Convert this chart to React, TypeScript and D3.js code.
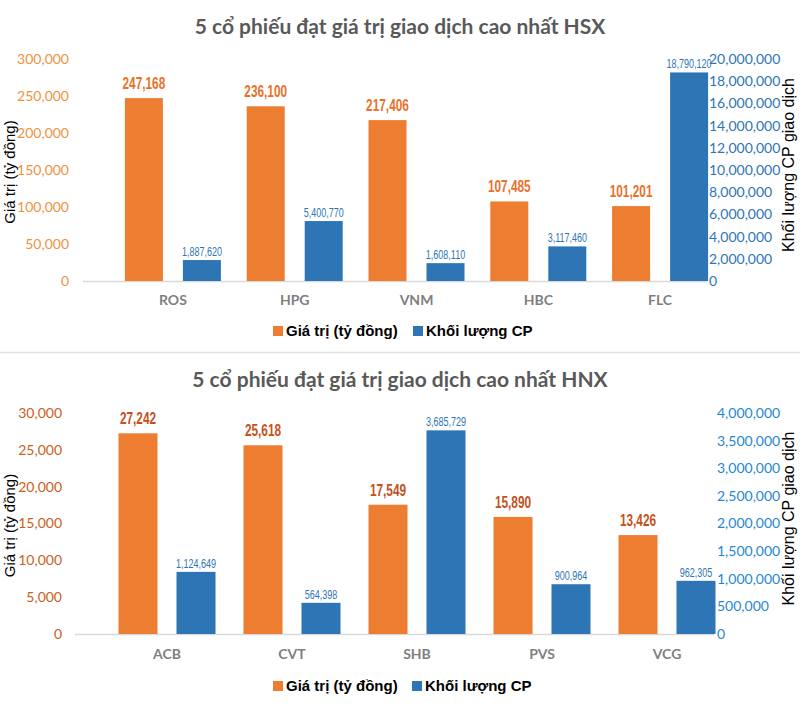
import React from "react";
import * as d3 from "d3";

const hsxCategories = ["ROS", "HPG", "VNM", "HBC", "FLC"];
const hsxValue = [247168, 236100, 217406, 107485, 101201];
const hsxVolume = [1887620, 5400770, 1608110, 3117460, 18790120];
const hsxValueTicks = [0, 50000, 100000, 150000, 200000, 250000, 300000];
const hsxVolumeTicks = [0, 2000000, 4000000, 6000000, 8000000, 10000000, 12000000, 14000000, 16000000, 18000000, 20000000];

const hnxCategories = ["ACB", "CVT", "SHB", "PVS", "VCG"];
const hnxValue = [27242, 25618, 17549, 15890, 13426];
const hnxVolume = [1124649, 564398, 3685729, 900964, 962305];
const hnxValueTicks = [0, 5000, 10000, 15000, 20000, 25000, 30000];
const hnxVolumeTicks = [0, 500000, 1000000, 1500000, 2000000, 2500000, 3000000, 3500000, 4000000];

const legendLabels = ["Giá trị (tỷ đồng)", "Khối lượng CP"];
const leftAxisTitle = "Giá trị (tỷ đồng)";
const rightAxisTitle = "Khối lượng CP giao dịch";

const ORANGE = "#ED7D31";
const BLUE = "#2E75B6";
const fmt = d3.format(",");

type PanelProps = {
  title: string;
  categories: string[];
  values: number[];
  volumes: number[];
  valueTicks: number[];
  volumeTicks: number[];
  titleY: number;
  top: number;
  bottom: number;
  axisX0: number;
  axisX1: number;
  bandRange: [number, number];
  barW: number;
  gap: number;
  leftTickX: number;
  rightTickX: number;
  catY: number;
  legendY: number;
  legendX: [number, number];
  leftTickColor: string;
  rightTickColor: string;
  valueLabelColor: string;
};

function Panel(p: PanelProps) {
  const x = d3.scaleBand<string>().domain(p.categories).range(p.bandRange).padding(0);
  const yL = d3.scaleLinear().domain([0, d3.max(p.valueTicks)!]).range([p.bottom, p.top]);
  const yR = d3.scaleLinear().domain([0, d3.max(p.volumeTicks)!]).range([p.bottom, p.top]);
  const mid = (p.top + p.bottom) / 2;
  const groupW = p.barW * 2 + p.gap;
  return (
    <g>
      <text x={400} y={p.titleY} textAnchor="middle" fontFamily="Lato, 'Open Sans', sans-serif" fontWeight={700} fontSize={21} fill="#595959">
        {p.title}
      </text>
      {p.valueTicks.map((t) => (
        <text key={"l" + t} x={p.leftTickX} y={yL(t)} dy="0.35em" textAnchor="end" fontFamily="Lato, sans-serif" fontSize={14} fill={p.leftTickColor}>
          {fmt(t)}
        </text>
      ))}
      {p.volumeTicks.map((t) => (
        <text key={"r" + t} x={p.rightTickX} y={yR(t)} dy="0.35em" textAnchor="start" fontFamily="Lato, sans-serif" fontSize={14} fill={p.rightTickColor}>
          {fmt(t)}
        </text>
      ))}
      <text transform={`translate(14.5,${mid + 2}) rotate(-90)`} textAnchor="middle" fontFamily="'Liberation Sans', Arial, sans-serif" fontSize={15} fill="#000">
        {leftAxisTitle}
      </text>
      <text transform={`translate(794,${mid - 5}) rotate(-90)`} textAnchor="middle" fontFamily="'Liberation Sans', Arial, sans-serif" fontSize={16} fill="#000">
        {rightAxisTitle}
      </text>
      <line x1={p.axisX0} x2={p.axisX1} y1={p.bottom + 0.5} y2={p.bottom + 0.5} stroke="#d9d9d9" strokeWidth={1.5} />
      {p.categories.map((c, i) => {
        const cx = x(c)! + x.bandwidth() / 2;
        const ox = cx - groupW / 2;
        const bx = ox + p.barW + p.gap;
        const oy = yL(p.values[i]);
        const by = yR(p.volumes[i]);
        return (
          <g key={c}>
            <rect x={ox} y={oy} width={p.barW} height={p.bottom - oy} fill={ORANGE} />
            <rect x={bx} y={by} width={p.barW} height={p.bottom - by} fill={BLUE} />
            <text transform={`translate(${ox + p.barW / 2},${oy - 9}) scale(0.74,1)`} textAnchor="middle" fontFamily="'Liberation Sans', Arial, sans-serif" fontWeight={700} fontSize={16} fill={p.valueLabelColor}>
              {fmt(p.values[i])}
            </text>
            <text transform={`translate(${bx + p.barW / 2},${by - 4}) scale(0.72,1)`} textAnchor="middle" fontFamily="'Liberation Sans', Arial, sans-serif" fontSize={12.5} fill={BLUE}>
              {fmt(p.volumes[i])}
            </text>
            <text x={cx} y={p.catY} dy="0.35em" textAnchor="middle" fontFamily="Lato, sans-serif" fontWeight={700} fontSize={14} fill="#7f7f7f">
              {c}
            </text>
          </g>
        );
      })}
      {legendLabels.map((l, i) => (
        <g key={l}>
          <rect x={p.legendX[i]} y={p.legendY - 5} width={10} height={10} fill={i === 0 ? ORANGE : BLUE} />
          <text x={p.legendX[i] + 13} y={p.legendY} dy="0.35em" fontFamily="'Liberation Sans', Arial, sans-serif" fontWeight={700} fontSize={15} fill="#000">
            {l}
          </text>
        </g>
      ))}
    </g>
  );
}

export default function App() {
  return (
    <svg width={800} height={707} style={{ position: "absolute", left: 0, top: 0, background: "#fff" }}>
      <rect width={800} height={707} fill="#fff" />
      <Panel
        title="5 cổ phiếu đạt giá trị giao dịch cao nhất HSX"
        categories={hsxCategories}
        values={hsxValue}
        volumes={hsxVolume}
        valueTicks={hsxValueTicks}
        volumeTicks={hsxVolumeTicks}
        titleY={34}
        top={59}
        bottom={281}
        axisX0={83}
        axisX1={707}
        bandRange={[112, 721]}
        barW={38}
        gap={20}
        leftTickX={69}
        rightTickX={709}
        catY={300}
        legendY={331}
        legendX={[273, 413]}
        leftTickColor="#F0913F"
        rightTickColor="#2E75B6"
        valueLabelColor="#E8712A"
      />
      <line x1={0} x2={800} y1={352.5} y2={352.5} stroke="#e0e0e0" strokeWidth={1.5} />
      <Panel
        title="5 cổ phiếu đạt giá trị giao dịch cao nhất HNX"
        categories={hnxCategories}
        values={hnxValue}
        volumes={hnxVolume}
        valueTicks={hnxValueTicks}
        volumeTicks={hnxVolumeTicks}
        titleY={387}
        top={413}
        bottom={634}
        axisX0={75}
        axisX1={714}
        bandRange={[104.5, 729.5]}
        barW={39}
        gap={19}
        leftTickX={62}
        rightTickX={717}
        catY={654}
        legendY={686}
        legendX={[273, 412]}
        leftTickColor="#C8601C"
        rightTickColor="#1F87D6"
        valueLabelColor="#C5501A"
      />
    </svg>
  );
}
